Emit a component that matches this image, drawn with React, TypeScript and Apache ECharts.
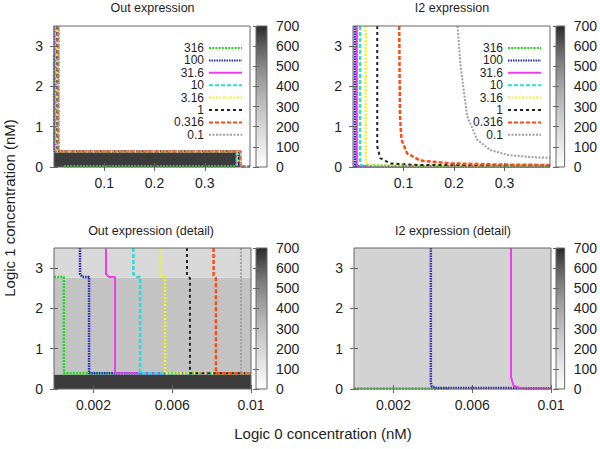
import React, { useEffect, useRef } from 'react';
import * as echarts from 'echarts';

// ---------- data ----------
const levels = ['316', '100', '31.6', '10', '3.16', '1', '0.316', '0.1'];
const panelTitles = ['Out expression', 'I2 expression', 'Out expression (detail)', 'I2 expression (detail)'];
const overviewXTicks = [0.1, 0.2, 0.3];
const detailXTicks = [0.002, 0.006, 0.01];
const yTicks = [0, 1, 2, 3];
const overviewXRange = [0, 0.39];
const detailXRange = [0, 0.01];
const yRange = [0, 3.5];
const colorRange = [0, 700];
const colorBarSpan = [[0, 1, 0, 700]];

// shaded cells: [x0, x1, y0, y1, value]
const outOverviewCells = [
  [0, 0.37, 0, 0.36, 666],
  [0, 0.01, 0.36, 2.76, 284],
  [0, 0.01, 2.76, 3.5, 185],
];
const i2OverviewCells = [[0, 0.01, 0, 3.5, 209]];
const outDetailCells = [
  [0, 0.01, 0, 0.36, 666],
  [0, 0.01, 0.36, 2.76, 284],
  [0, 0.01, 2.76, 3.5, 185],
];
const i2DetailCells = [[0, 0.01, 0, 3.5, 209]];

// contour lines, one polyline per level
const outOverviewLines = [
  [[0, 2.78], [0.0005, 2.78], [0.0005, 0.39], [0.363, 0.39], [0.363, 0.02], [0.019, 0.02], [0.019, 0]],
  [[0.00132, 3.5], [0.00132, 2.85], [0.00178, 2.78], [0.00178, 0.39], [0.363, 0.39], [0.363, 0.03]],
  [[0.00264, 3.5], [0.00264, 2.85], [0.0031, 2.78], [0.0031, 0.39], [0.364, 0.39], [0.364, 0.03]],
  [[0.00403, 3.5], [0.00403, 2.85], [0.00437, 2.78], [0.00437, 0.39], [0.364, 0.39], [0.364, 0.03]],
  [[0.00539, 3.5], [0.00539, 2.85], [0.00564, 2.78], [0.00564, 0.39], [0.367, 0.39], [0.367, 0.02]],
  [[0.00675, 3.5], [0.00675, 2.82], [0.0069, 2.75], [0.0069, 0.39], [0.368, 0.39], [0.368, 0.02]],
  [[0.0081, 3.5], [0.0081, 2.82], [0.00822, 2.75], [0.00822, 0.39], [0.371, 0.39], [0.371, 0.01], [0.39, 0.01]],
  [[0.00949, 3.5], [0.00949, 0.39], [0.372, 0.39], [0.372, 0.01], [0.39, 0.01]],
];
const i2OverviewLines = [
  [[0, 0.01], [0.39, 0.01]],
  [[0.0039, 3.5], [0.0039, 0.1], [0.0045, 0.02], [0.39, 0.02]],
  [[0.0075, 3.5], [0.0075, 0.1], [0.009, 0.02], [0.39, 0.02]],
  [[0.014, 3.5], [0.014, 0.15], [0.016, 0.04], [0.39, 0.025]],
  [[0.025, 3.5], [0.025, 0.2], [0.028, 0.06], [0.04, 0.035], [0.39, 0.03]],
  [[0.048, 3.5], [0.048, 0.51], [0.054, 0.22], [0.074, 0.09], [0.127, 0.05], [0.39, 0.04]],
  [[0.0915, 3.5], [0.0921, 2.51], [0.093, 1.26], [0.096, 0.675], [0.107, 0.34], [0.133, 0.16], [0.193, 0.09], [0.292, 0.06], [0.39, 0.05]],
  [[0.207, 3.5], [0.213, 2.5], [0.226, 1.26], [0.246, 0.675], [0.272, 0.42], [0.306, 0.3], [0.358, 0.24], [0.39, 0.23]],
];
const outDetailLines = [
  [[0, 2.78], [0.0005, 2.78], [0.0005, 0.39], [0.01, 0.39]],
  [[0.00132, 3.5], [0.00132, 2.85], [0.00145, 2.78], [0.00178, 2.78], [0.00178, 0.39], [0.01, 0.39]],
  [[0.00264, 3.5], [0.00264, 2.85], [0.0028, 2.78], [0.0031, 2.78], [0.0031, 0.39], [0.01, 0.39]],
  [[0.00403, 3.5], [0.00403, 2.85], [0.0042, 2.78], [0.00437, 2.78], [0.00437, 0.39], [0.01, 0.39]],
  [[0.00539, 3.5], [0.00539, 2.85], [0.0055, 2.78], [0.00564, 2.78], [0.00564, 0.39], [0.01, 0.39]],
  [[0.00675, 3.5], [0.00675, 2.82], [0.0069, 2.75], [0.0069, 0.39], [0.01, 0.39]],
  [[0.0081, 3.5], [0.0081, 2.82], [0.00822, 2.75], [0.00822, 0.39], [0.01, 0.39]],
  [[0.00949, 3.5], [0.00949, 0.39], [0.01, 0.39]],
];
const i2DetailLines = [
  [[0, 0.012], [0.0048, 0.012]],
  [[0.0039, 3.5], [0.0039, 0.15], [0.00395, 0.06], [0.0042, 0.025], [0.01, 0.02]],
  [[0.00797, 3.5], [0.00797, 0.3], [0.0081, 0.08], [0.0084, 0.03], [0.0088, 0.015], [0.01, 0.01]],
  [], [], [], [], [],
];

// ---------- styles / layout ----------
const FONT = "'Liberation Sans', Arial, Helvetica, sans-serif";
const TEXT = '#1e1e1e';
const BORDER = '#666';
// gray palette (low -> high), evenly spaced stops
const PALETTE = ['#ffffff', '#ececec', '#dadada', '#c8c8c8', '#b3b3b3', '#9b9b9b', '#7e7e7e', '#585858', '#2a2a2a'];
const levelStyles = [
  { color: '#22d622', type: [2, 1.2], width: 2.5 },
  { color: '#2626c8', type: [1.5, 1], width: 2.5 },
  { color: '#ee3cee', type: 'solid', width: 2 },
  { color: '#22dede', type: [4, 2], width: 2.5 },
  { color: '#f2f21c', type: [2, 1.5], width: 2.5 },
  { color: '#222222', type: [3, 3], width: 2 },
  { color: '#ff4a14', type: [4, 2], width: 2.5 },
  { color: '#a0a0a0', type: [2, 1.5], width: 2 },
];
const plotBoxes = [
  { left: 54, top: 26, width: 196, height: 141 },
  { left: 353, top: 26, width: 197, height: 141 },
  { left: 54, top: 248, width: 197, height: 141 },
  { left: 354, top: 248, width: 197, height: 141 },
];
const barBoxes = [
  { left: 256, top: 26, width: 11, height: 141 },
  { left: 556, top: 26, width: 11, height: 141 },
  { left: 256, top: 248, width: 11, height: 141 },
  { left: 556, top: 248, width: 11, height: 141 },
];
const titlePos = [[152.5, 8], [452, 8], [151, 231], [453, 231]];

export default function App() {
  const ref = useRef<HTMLDivElement>(null);
  useEffect(() => {
    if (!ref.current) return;
    const chart = echarts.init(ref.current, undefined, { renderer: 'svg' });
    const cells = [outOverviewCells, i2OverviewCells, outDetailCells, i2DetailCells];
    const lines = [outOverviewLines, i2OverviewLines, outDetailLines, i2DetailLines];
    const xRanges = [overviewXRange, overviewXRange, detailXRange, detailXRange];
    const xTicks = [overviewXTicks, overviewXTicks, detailXTicks, detailXTicks];
    const stops = PALETTE.map((c, i) => ({ offset: 1 - i / (PALETTE.length - 1), color: c })).reverse();

    const grid: any[] = [];
    const xAxis: any[] = [];
    const yAxis: any[] = [];
    const series: any[] = [];
    const visualMap: any[] = [];
    plotBoxes.forEach((b) => grid.push({ ...b, show: true, borderColor: BORDER, borderWidth: 1, backgroundColor: 'transparent', z: 10 }));
    barBoxes.forEach((b) => grid.push({ ...b, show: true, borderColor: BORDER, borderWidth: 1, backgroundColor: 'transparent', z: 10 }));

    const tickStyle = { lineStyle: { color: BORDER, width: 1 } };
    for (let p = 0; p < 4; p++) {
      const [xmin, xmax] = xRanges[p];
      ['bottom', 'top'].forEach((pos, k) => {
        xAxis.push({
          type: 'value', gridIndex: p, position: pos, min: xmin, max: xmax, z: 10,
          axisLine: { show: false }, splitLine: { show: false },
          axisTick: { show: true, inside: true, length: 4, customValues: xTicks[p], ...tickStyle },
          axisLabel: { show: k === 0, customValues: xTicks[p], fontSize: 14, color: TEXT, fontFamily: FONT, margin: 9 },
        });
      });
      ['left', 'right'].forEach((pos, k) => {
        yAxis.push({
          type: 'value', gridIndex: p, position: pos, min: yRange[0], max: yRange[1], z: 10,
          axisLine: { show: false }, splitLine: { show: false },
          axisTick: { show: true, inside: true, length: 4, customValues: yTicks, ...tickStyle },
          axisLabel: { show: k === 0, customValues: yTicks, fontSize: 14, color: TEXT, fontFamily: FONT, margin: 11 },
        });
      });
    }
    for (let p = 0; p < 4; p++) {
      xAxis.push({ type: 'value', gridIndex: 4 + p, min: 0, max: 1, show: false });
      ['right', 'left'].forEach((pos, k) => {
        yAxis.push({
          type: 'value', gridIndex: 4 + p, position: pos, min: colorRange[0], max: colorRange[1], interval: 100, z: 10,
          axisLine: { show: false }, splitLine: { show: false },
          axisTick: { show: true, inside: true, length: 3, ...tickStyle },
          axisLabel: { show: k === 0, fontSize: 14, color: TEXT, fontFamily: FONT, margin: 9 },
        });
      });
    }

    const rectItem = (fill: (api: any, top: number, bottom: number) => any) => (params: any, api: any) => {
      const a = api.coord([api.value(0), api.value(3)]);
      const c = api.coord([api.value(1), api.value(2)]);
      return {
        type: 'rect',
        shape: { x: a[0], y: a[1], width: c[0] - a[0], height: c[1] - a[1] },
        style: { fill: fill(api, a[1], c[1]), stroke: null },
      };
    };

    for (let p = 0; p < 4; p++) {
      const idx = series.length;
      series.push({
        type: 'custom', xAxisIndex: 2 * p, yAxisIndex: 2 * p, silent: true, z: 1,
        data: cells[p],
        encode: { x: [0, 1], y: [2, 3] },
        renderItem: rectItem((api) => api.visual('color')),
      });
      visualMap.push({
        type: 'continuous', show: false, seriesIndex: idx, dimension: 4, min: colorRange[0], max: colorRange[1],
        inRange: { color: PALETTE },
      });
      levels.forEach((lv, i) => {
        const st = levelStyles[i];
        series.push({
          type: 'line', name: lv, xAxisIndex: 2 * p, yAxisIndex: 2 * p, z: 3,
          data: lines[p][i], symbol: 'none', silent: true,
          lineStyle: { color: st.color, width: st.width, type: st.type },
          itemStyle: { color: st.color },
        });
      });
      series.push({
        type: 'custom', xAxisIndex: 8 + p, yAxisIndex: 8 + 2 * p, silent: true, z: 1,
        data: colorBarSpan,
        encode: { x: [0, 1], y: [2, 3] },
        renderItem: rectItem((api, top, bottom) => new echarts.graphic.LinearGradient(0, top, 0, bottom, stops, true)),
      });
    }

    const legendBase = {
      orient: 'vertical', align: 'right', padding: 0, itemGap: 0.4, itemWidth: 33, itemHeight: 8,
      selectedMode: false, data: levels, itemStyle: { opacity: 0 },
      textStyle: { fontSize: 12, lineHeight: 12, color: TEXT, fontFamily: FONT },
    };
    const legend = [
      { ...legendBase, right: 357, top: 42 },
      { ...legendBase, right: 58, top: 42 },
    ];

    const graphic: any[] = panelTitles.map((t, i) => ({
      type: 'text', x: titlePos[i][0], y: titlePos[i][1],
      style: { text: t, fontSize: 12.5, fill: TEXT, fontFamily: FONT, align: 'center', verticalAlign: 'middle', textAlign: 'center', textVerticalAlign: 'middle' },
    }));
    graphic.push({
      type: 'text', x: 9, y: 208, rotation: Math.PI / 2,
      style: { text: 'Logic 1 concentration (nM)', fontSize: 15, fill: TEXT, fontFamily: FONT, align: 'center', verticalAlign: 'middle', textAlign: 'center', textVerticalAlign: 'middle' },
    });
    graphic.push({
      type: 'text', x: 323, y: 433,
      style: { text: 'Logic 0 concentration (nM)', fontSize: 15, fill: TEXT, fontFamily: FONT, align: 'center', verticalAlign: 'middle', textAlign: 'center', textVerticalAlign: 'middle' },
    });

    chart.setOption({
      animation: false,
      backgroundColor: '#ffffff',
      textStyle: { fontFamily: FONT },
      grid, xAxis, yAxis, series, visualMap, legend, graphic,
    });
    return () => chart.dispose();
  }, []);
  return <div ref={ref} style={{ position: 'fixed', left: 0, top: 0, width: 600, height: 449 }} />;
}
